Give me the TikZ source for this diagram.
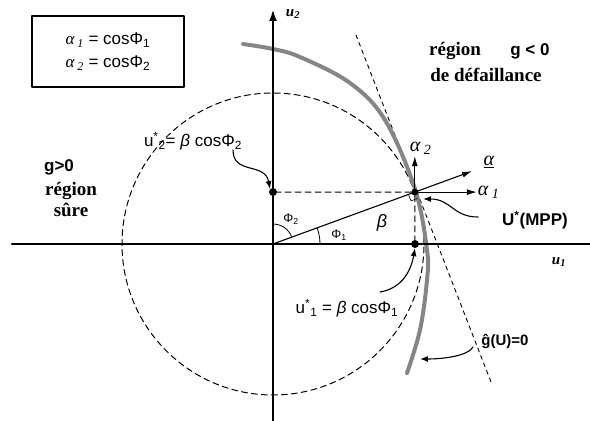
\documentclass[tikz,border=0pt]{standalone}
\usepackage{fontspec}
\setmainfont{Liberation Sans}
\newfontfamily\serifrm{Liberation Serif}
\usetikzlibrary{arrows.meta}
\tikzset{
  axis/.style={line width=2.4pt},
  guide/.style={dash pattern=on 6pt off 4pt,line width=1pt},
  pointer/.style={line width=1.1pt,-{Latex[length=8pt,width=6pt]}},
  vec/.style={line width=1.1pt,-{Latex[length=10pt,width=6pt]}},
  dot/.style={circle,fill,inner sep=0pt,minimum size=8pt},
  lbl/.style={font=\fontsize{17}{20}\selectfont},
  region/.style={font=\serifrm\bfseries\fontsize{19}{23}\selectfont,align=center},
}
\begin{document}
\begin{tikzpicture}[x=1pt,y=1pt,line cap=round,line join=round]
  \useasboundingbox (-273,-177) rectangle (317,244);
  \def\B{151} \def\ang{20.1}
  \coordinate (O) at (0,0);
  % reliability circle and tangent plane
  \draw[guide] (O) circle (\B);
  \coordinate (T1) at (83,209); \coordinate (T2) at (218,-138);
  \draw[line width=0.9pt,dash pattern=on 4pt off 4pt] (T1) -- (T2);
  % limit state g(U)=0
  \draw[line width=4pt,black!48] plot[smooth,tension=0.6] coordinates
    {(-30,200) (0,195) (27,187) (77,161) (112,124) (142,55) (154,-6) (154,-36) (147,-86) (134,-129)};
  % axes
  \coordinate (XL) at (-261,0); \coordinate (XR) at (317,0);
  \coordinate (YB) at (0,-177); \coordinate (YT) at (0,235);
  \draw[axis] (XL) -- (XR);
  \draw[axis,-{Latex[length=12pt,width=8pt]}] (YB) -- (YT);
  \node[font=\serifrm\bfseries\itshape\fontsize{15}{17}\selectfont] (u2) at (20,230) {u\textsubscript{2}};
  \node[font=\serifrm\bfseries\itshape\fontsize{15}{17}\selectfont] (u1) at (286,-18) {u\textsubscript{1}};
  % design point and projections
  \node[dot,minimum size=7pt] (M) at (\ang:\B) {};
  \node[dot] (P2) at (0,52) {};
  \node[dot] (P1) at (142,0) {};
  \draw[guide] (M) -- (P2);
  \draw[guide] (M) -- (P1);
  \draw[line width=1.1pt] (O) -- (M.center);
  \draw[line width=0.6pt] (135.4,49.6) -- (138,43.1) -- (144.5,45.5);
  % angles
  \draw[line width=0.8pt] (47,0) arc[start angle=0,end angle=\ang,radius=47];
  \draw[line width=0.8pt] (\ang:20) arc[start angle=\ang,end angle=90,radius=20];
  \node[font=\fontsize{12.5}{14}\selectfont] (phi1) at (66,9) {Φ\textsubscript{1}};
  \node[font=\fontsize{12.5}{14}\selectfont] (phi2) at (18,25) {Φ\textsubscript{2}};
  \node[font=\itshape\fontsize{18}{20}\selectfont] (beta) at (109,21) {β};
  % direction cosines
  \path (M.center) ++(\ang:61) coordinate (aT);
  \path (M.center) ++(62,0) coordinate (a1T);
  \path (M.center) ++(0,36) coordinate (a2T);
  \draw[vec] (M.center) -- (aT);
  \draw[vec] (M.center) -- (a1T);
  \draw[vec] (M.center) -- (a2T);
  \node[font=\serifrm\itshape\fontsize{20}{22}\selectfont] (a) at (216,82) {\underline{α}};
  \node[anchor=west,font=\serifrm\itshape\fontsize{20}{22}\selectfont,inner sep=1pt] (a1) at (a1T) {α\,\textsubscript{1}};
  \node[anchor=south west,font=\serifrm\itshape\fontsize{20}{22}\selectfont,inner sep=1pt,xshift=-6pt] (a2) at (a2T) {α\,\textsubscript{2}};
  % texts
  \node[draw,line width=1.2pt,minimum width=152pt,minimum height=71pt,align=center,
    font=\fontsize{17}{23}\selectfont] (key) at (-165,192.5)
    {{\serifrm\itshape α\,\textsubscript{1}} = cosΦ\textsubscript{1}\\
     {\serifrm\itshape α\,\textsubscript{2}} = cosΦ\textsubscript{2}};
  \node[region] (fail) at (182,193) {région};
  \node[font=\bfseries\fontsize{17}{20}\selectfont] (gneg) at (257,193) {g < 0};
  \node[region] (fail2) at (213,169) {de défaillance};
  \node[font=\bfseries\fontsize{17}{20}\selectfont] (gpos) at (-214,77) {g>0};
  \node[region,font=\serifrm\bfseries\fontsize{19}{21}\selectfont] (safe) at (-202,44) {région\\sûre};
  \node[lbl] (lu2) at (-80,103) {u\textsuperscript{*}\textsubscript{2}= {\itshape β} cosΦ\textsubscript{2}};
  \node[lbl] (lu1) at (74,-64) {u\textsuperscript{*}\textsubscript{1} = {\itshape β} cosΦ\textsubscript{1}};
  \node[font=\bfseries\fontsize{17}{20}\selectfont] (mpp) at (262,24) {U\textsuperscript{*}(MPP)};
  \node[font=\bfseries\fontsize{15}{17}\selectfont] (gU) at (232,-97) {\^{g}(U)=0};
  % pointers
  \coordinate (s2) at (-40,94); \coordinate (s1) at (107,-48);
  \coordinate (sM) at (205,27); \coordinate (sG) at (200,-103);
  \draw[pointer] (s2) .. controls (-40,69) and (-8,82) .. (P2.north west);
  \draw[pointer] (s1) .. controls (125,-45) and (137,-32) .. (P1.south);
  \draw[pointer] (sM) .. controls (180,27) and (178,45) .. (150,45);
  \draw[pointer] (sG) .. controls (195,-112) and (170,-115) .. (147,-115);
\end{tikzpicture}
\end{document}
